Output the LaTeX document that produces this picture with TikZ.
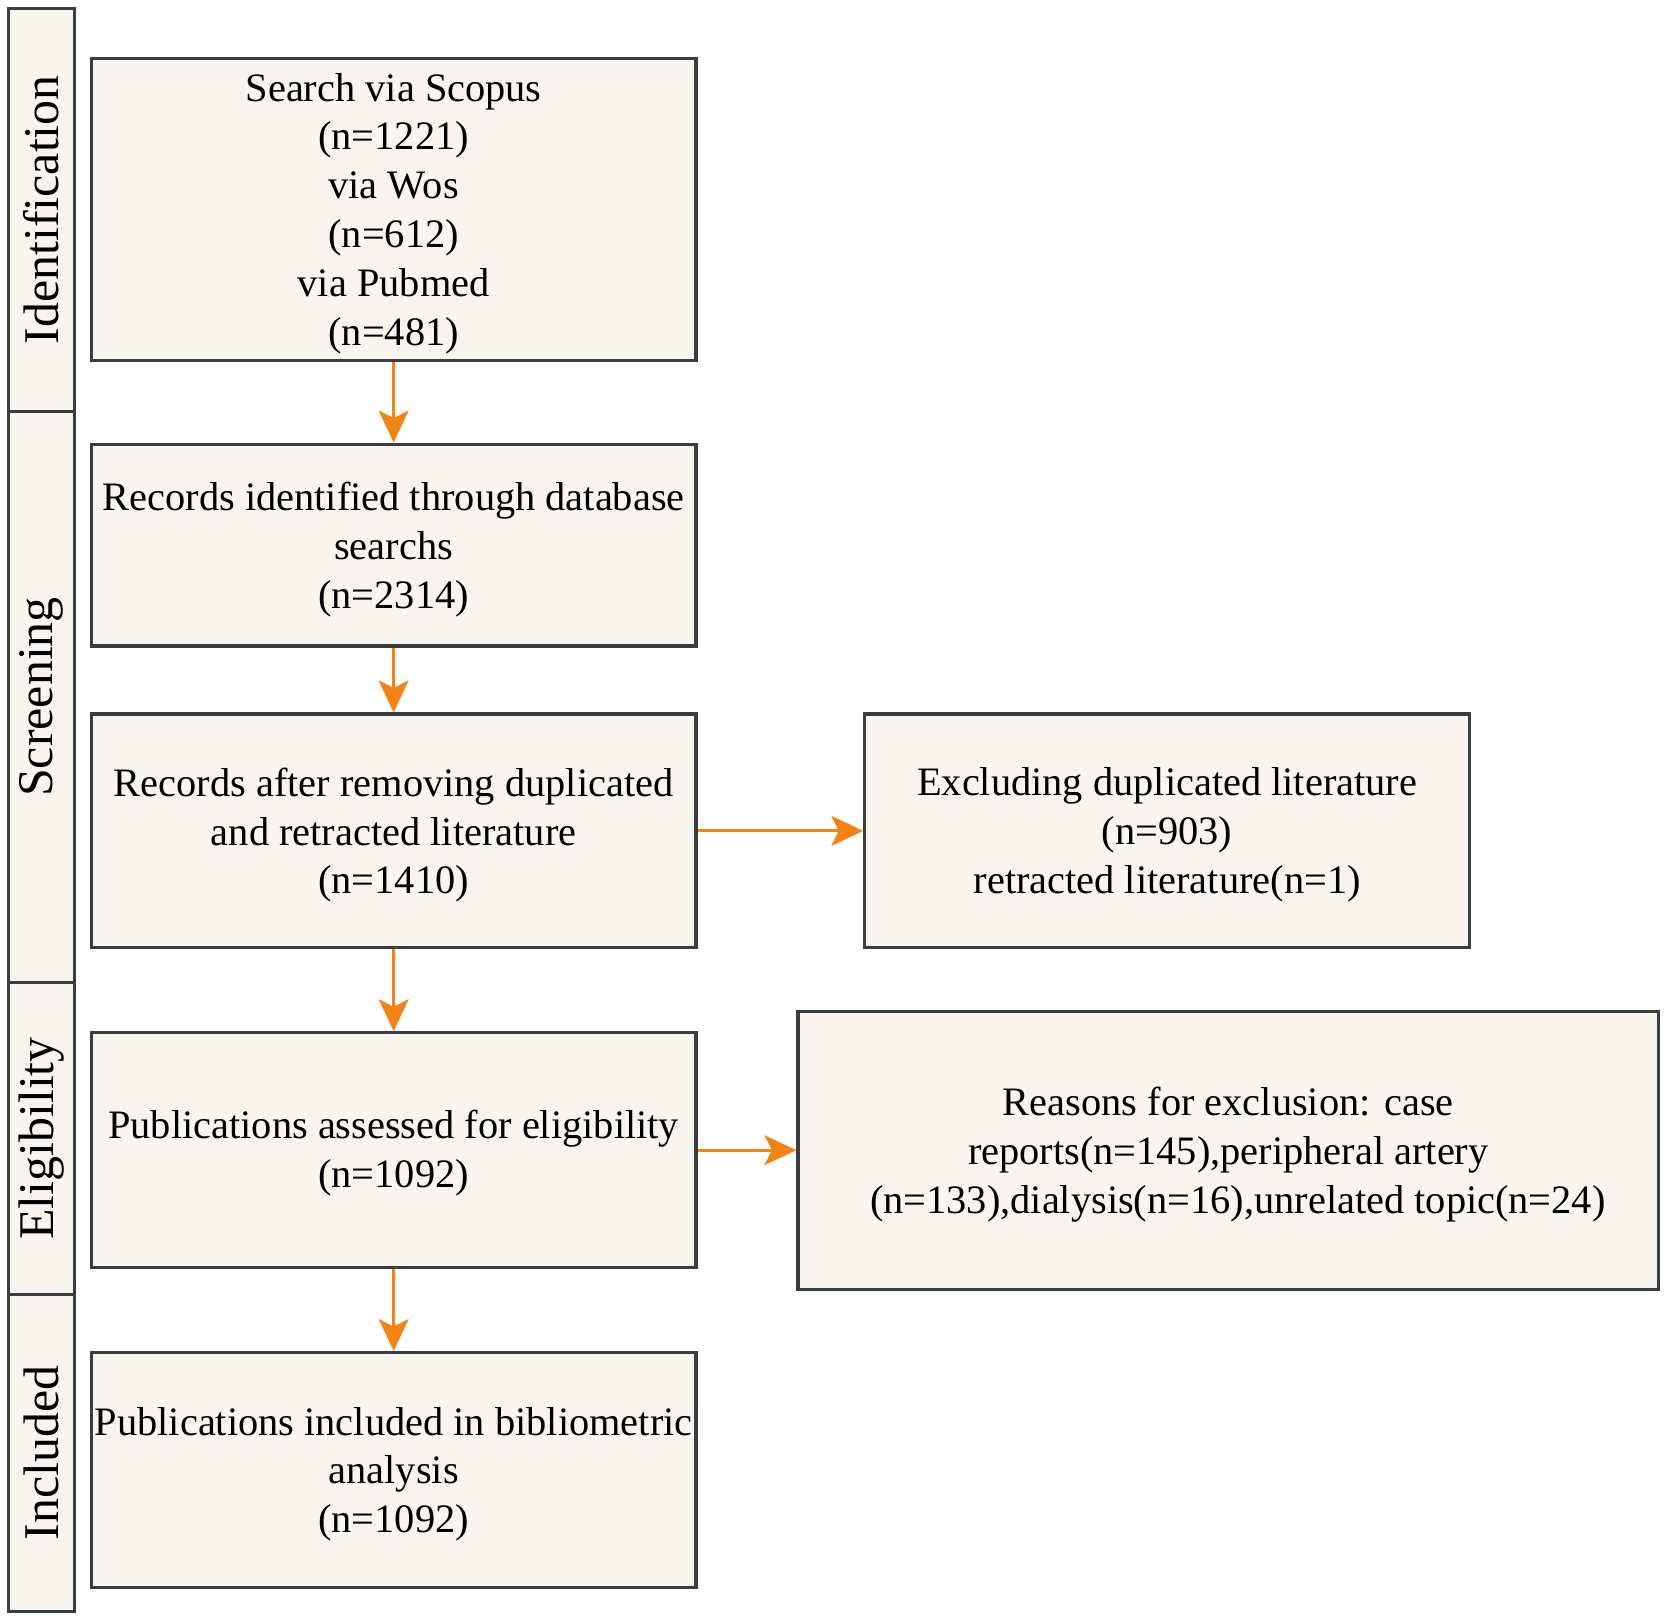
\documentclass[tikz,border=0pt]{standalone}
\usepackage{fontspec}
\setmainfont{Liberation Serif}
\usetikzlibrary{arrows.meta}
\definecolor{boxfill}{RGB}{247,245,238}
\definecolor{boxline}{RGB}{58,61,64}
\definecolor{arr}{RGB}{245,130,20}
\begin{document}
\begin{tikzpicture}[x=1pt,y=-1pt,
  box/.style={draw=boxline, fill=boxfill, line width=3pt, inner sep=0pt},
  txt/.style={align=center, inner sep=0pt, font=\fontsize{38}{46}\selectfont},
  stage/.style={box, rotate=90, font=\fontsize{47}{56}\selectfont, minimum height=62pt},
  flow/.style={draw=arr, line width=3pt, -{Stealth[length=30pt,width=28pt,inset=7pt]}}]
\useasboundingbox (0,0) rectangle (1568,1526);
\fill[white] (0,0) rectangle (1568,1526);
% stage bar
\node[stage, minimum width=379pt] (s1) at (39,197.5) {Identification};
\node[stage, minimum width=538pt] (s2) at (39,656) {Screening};
\node[stage, minimum width=293pt] (s3) at (39,1071.5) {Eligibility};
\node[stage, minimum width=299pt] (s4) at (39,1367.5) {Included};
% main boxes
\node[box, minimum width=569pt, minimum height=284pt] (b1) at (370.5,197) {};
\node[box, minimum width=569pt, minimum height=190pt] (b2) at (370.5,513) {};
\node[box, minimum width=569pt, minimum height=220pt] (b3) at (370.5,782) {};
\node[box, minimum width=569pt, minimum height=221pt] (b4) at (370.5,1082.5) {};
\node[box, minimum width=569pt, minimum height=221pt] (b5) at (370.5,1383.5) {};
\node[box, minimum width=569pt, minimum height=220pt] (ra) at (1098.5,782) {};
\node[box, minimum width=810pt, minimum height=262pt] (rb) at (1156,1083) {};
% texts
\node[txt] (t1) at ([yshift=-4pt]b1.center)
  {Search via Scopus\\(n=1221)\\via Wos\\(n=612)\\via Pubmed\\(n=481)};
\node[txt] (t2) at ([yshift=-4pt]b2.center)
  {Records identified through database\\searchs\\(n=2314)};
\node[txt] (t3) at ([yshift=-4pt]b3.center)
  {Records after removing duplicated\\and retracted literature\\(n=1410)};
\node[txt] (t4) at ([yshift=-3pt]b4.center)
  {Publications assessed for eligibility\\(n=1092)};
\node[txt] (t5) at ([yshift=-4pt]b5.center)
  {Publications included in bibliometric\\analysis\\(n=1092)};
\node[txt] (ta) at ([yshift=-4pt]ra.center)
  {Excluding duplicated literature\\(n=903)\\retracted literature(n=1)};
\node[txt] (tb) at ([yshift=-4pt]rb.center)
  {Reasons for exclusion: case\\reports(n=145),peripheral artery\\\hspace*{18pt}(n=133),dialysis(n=16),unrelated topic(n=24)};
% connectors
\draw[flow] (b1.south) -- (b2.north);
\draw[flow] (b2.south) -- (b3.north);
\draw[flow] (b3.south) -- (b4.north);
\draw[flow] (b4.south) -- (b5.north);
\draw[flow] (b3.east) -- (ra.west);
\draw[flow] (b4.east) -- (b4.east -| rb.west);
\end{tikzpicture}
\end{document}
